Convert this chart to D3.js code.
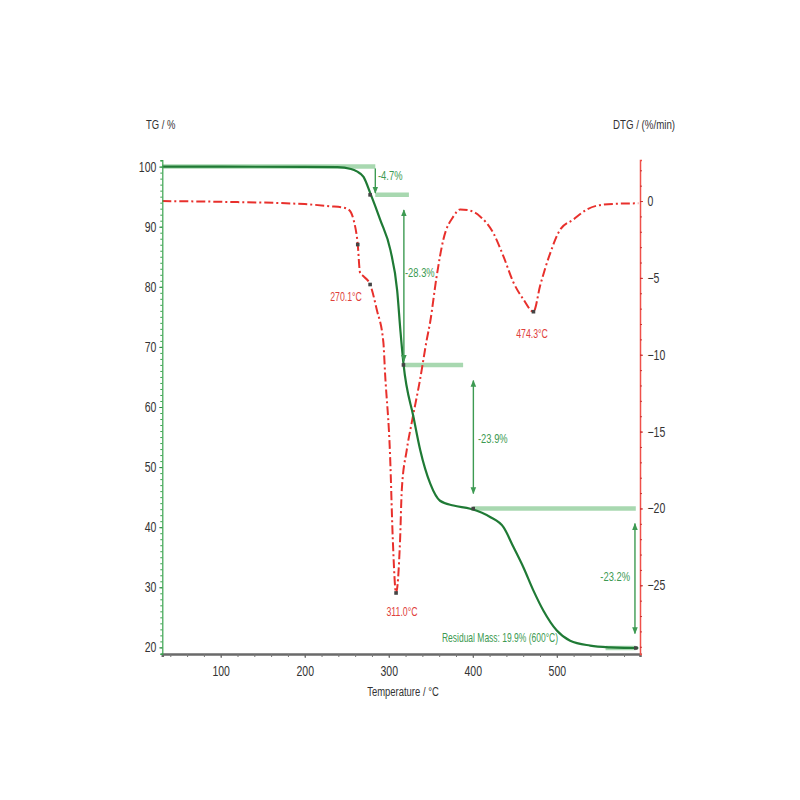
<!DOCTYPE html>
<html><head><meta charset="utf-8">
<script src="https://cdn.jsdelivr.net/npm/d3@7"></script>
<style>body{margin:0;background:#fff}svg{display:block}</style>
</head><body>
<svg id="c" width="800" height="800"></svg>
<script>
// ---------- data ----------
const tgTemp = [30.5,100,200,239,255,262,270,278,290,302,310,314,317.5,329.5,337.5,349.5,361,377,397,420.6,436.5,448.4,460.3,472.2,484.1,500,515.9,539.7,563.5,580,597];
const tgVal  = [100,100,99.95,99.9,99.6,99.2,98.3,95.6,91.1,86.1,79.4,72.5,67.2,58.3,52.8,47.2,44.4,43.6,43.07,41.7,40.0,36.7,33.3,29.45,26.1,22.8,21.1,20.3,20.0,19.92,19.9];
const dtgTemp = [30.5,100,200,230,245,252,258,263.1,265.8,269.8,277.8,285.7,293.6,295.6,301.6,304.8,308.7,313.5,315.5,321.4,327.4,337.3,345.3,349.2,357,365,377,385,395,408.7,424.6,436.5,448.4,460.3,472.2,480.2,492.1,504,519.8,535.7,555.5,575,597];
const dtgVal  = [0,-0.05,-0.2,-0.34,-0.42,-0.55,-1.2,-2.83,-4.65,-4.89,-5.43,-7.06,-9.2,-11.2,-16.6,-22.0,-25.5,-22.0,-18.8,-16.2,-14.4,-11.6,-9.0,-7.9,-4.9,-2.5,-1.0,-0.55,-0.6,-1.0,-2.1,-3.6,-5.3,-6.4,-7.2,-5.5,-3.4,-1.86,-1.2,-0.55,-0.23,-0.17,-0.15];
const tempTicks = [100,200,300,400,500];
const tgTicks = [20,30,40,50,60,70,80,90,100];
const dtgTicks = [0,-5,-10,-15,-20,-25];
// mass-loss steps: arrow temperature, from TG, to TG, label
const stepTemp  = [284, 318, 400.7, 593];
const stepFrom  = [99.7, 92.8, 64.4, 40.6];
const stepTo    = [95.6, 67.6, 45.6, 22.3];
const stepLabel = ["-4.7%","-28.3%","-23.9%","-23.2%"];
// horizontal reference levels: [TG level, start T, end T]
const levelTG    = [100, 95.3, 67.0, 43.1, 19.9];
const levelStart = [30.5, 284, 317.5, 400, 558];
const levelEnd   = [284, 324, 388.5, 594, 594];
// DTG peak labels
const peakTemp  = [277.8, 308.7, 472.2];
const peakVal   = [-5.43, -25.5, -7.2];
const peakLabel = ["270.1°C","311.0°C","474.3°C"];
const extraMarkT = [263.1]; const extraMarkV = [-2.83];
const residualLabel = "Residual Mass: 19.9% (600°C)";

// ---------- layout ----------
const svg = d3.select("#c");
const L=162.3, R=640, T=160, B=654;
const x = d3.scaleLinear().domain([30.5,599]).range([L,R]);
const yL = d3.scaleLinear().domain([18.9,101.1]).range([B,T]);
const yR = d3.scaleLinear().domain([-29.47,2.67]).range([B,T]);
const FONT = "'Liberation Sans Narrow','Arial Narrow','Liberation Sans',Arial,sans-serif";
const dark="#1f7a35", light="#a8d8b0", annG="#3d9a52", red="#e8302c";

function txt(px,py,s,opts={}){
  const sx = opts.sx||0.75;
  return svg.append("text").attr("transform",`translate(${px},${py}) scale(${sx},1)`)
    .attr("font-family",FONT).attr("font-size",opts.size||13)
    .attr("fill",opts.fill||"#333").attr("text-anchor",opts.anchor||"start").text(s);
}

// arrow markers
const defs = svg.append("defs");
function mk(id,orient){
  defs.append("marker").attr("id",id).attr("viewBox","0 0 10 10").attr("refX",9).attr("refY",5)
   .attr("markerWidth",5).attr("markerHeight",5).attr("orient",orient)
   .append("path").attr("d","M0,1 L10,5 L0,9 Z").attr("fill",annG);
}
mk("ah","auto"); mk("as","auto-start-reverse");

// ---------- reference levels ----------
levelTG.forEach((v,i)=>{
  svg.append("line").attr("x1",x(levelStart[i])).attr("x2",x(levelEnd[i]))
    .attr("y1",yL(v)).attr("y2",yL(v)).attr("stroke",light).attr("stroke-width",4.5);
});

// ---------- curves ----------
const tgLine = d3.line().x(d=>x(d[0])).y(d=>yL(d[1])).curve(d3.curveMonotoneX);
const dtgLine = d3.line().x(d=>x(d[0])).y(d=>yR(d[1])).curve(d3.curveMonotoneX);
svg.append("path").datum(dtgTemp.map((t,i)=>[t,dtgVal[i]])).attr("d",dtgLine)
  .attr("fill","none").attr("stroke",red).attr("stroke-width",2).attr("stroke-dasharray","9,3,2,3");
svg.append("path").datum(tgTemp.map((t,i)=>[t,tgVal[i]])).attr("d",tgLine)
  .attr("fill","none").attr("stroke",dark).attr("stroke-width",2.2);

// ---------- step arrows ----------
stepTemp.forEach((t,i)=>{
  svg.append("line").attr("x1",x(t)).attr("x2",x(t)).attr("y1",yL(stepFrom[i])).attr("y2",yL(stepTo[i]))
   .attr("stroke",annG).attr("stroke-width",1.4)
   .attr("marker-end","url(#ah)").attr("marker-start", i>0?"url(#as)":null);
});
const stepLabelPos = [[378,180,"start"],[405,277,"start"],[478,443,"start"],[630,581,"end"]];
stepLabel.forEach((s,i)=>txt(stepLabelPos[i][0],stepLabelPos[i][1],s,{fill:annG,size:12.5,anchor:stepLabelPos[i][2]}));

// ---------- markers ----------
const marks = [[x(277.8),yL(95.3)],[x(317.5),yL(67.0)],[x(400.5),yL(43.1)],[x(594),yL(19.9)]];
peakTemp.forEach((t,i)=>marks.push([x(t),yR(peakVal[i])]));
extraMarkT.forEach((t,i)=>marks.push([x(t),yR(extraMarkV[i])]));
marks.forEach(m=>svg.append("rect").attr("x",m[0]-1.8).attr("y",m[1]-1.8).attr("width",3.6).attr("height",3.6).attr("fill","#444"));

const peakPos = [[346,301],[402,616],[532,338]];
peakLabel.forEach((s,i)=>txt(peakPos[i][0],peakPos[i][1],s,{fill:"#e0403a",size:12.5,anchor:"middle",sx:0.7}));
txt(500,642,residualLabel,{fill:annG,size:12.5,anchor:"middle",sx:0.68});

// ---------- axes ----------
// bottom
const xAxis = svg.append("g").attr("transform",`translate(0,${B})`)
  .call(d3.axisBottom(x).tickValues(d3.range(40,600,20)).tickSize(3).tickFormat(""));
xAxis.select(".domain").attr("stroke","#6a6a6a").attr("stroke-width",2.5);
xAxis.selectAll(".tick line").attr("stroke","#777");
const xAxis2 = svg.append("g").attr("transform",`translate(0,${B})`)
  .call(d3.axisBottom(x).tickValues(tempTicks).tickSize(4).tickPadding(8));
xAxis2.select(".domain").remove();
xAxis2.selectAll(".tick line").attr("stroke","#666");
xAxis2.selectAll("text").attr("font-family",FONT).attr("font-size",14).attr("fill","#333")
  .attr("transform","scale(0.75,1)").attr("x",0);

// left
const yAxisL = svg.append("g").attr("transform",`translate(${L},0)`)
  .call(d3.axisLeft(yL).tickValues(d3.range(19,102,1)).tickSize(2).tickFormat(""));
yAxisL.select(".domain").attr("stroke","#3aa34f").attr("stroke-width",1.2);
yAxisL.selectAll(".tick line").attr("stroke","#3aa34f");
const yAxisL2 = svg.append("g").attr("transform",`translate(${L},0)`)
  .call(d3.axisLeft(yL).tickValues(tgTicks).tickSize(3).tickPadding(5));
yAxisL2.select(".domain").remove();
yAxisL2.selectAll(".tick line").attr("stroke","#2f8f44");
yAxisL2.selectAll("text").attr("font-family",FONT).attr("font-size",14).attr("fill","#333")
  .attr("transform","scale(0.75,1)");

// right
const yAxisR = svg.append("g").attr("transform",`translate(${R},0)`)
  .call(d3.axisRight(yR).tickValues(d3.range(-29,3,1)).tickSize(2).tickFormat(""));
yAxisR.select(".domain").attr("stroke","#f0504a").attr("stroke-width",1.5);
yAxisR.selectAll(".tick line").attr("stroke","#c33");
const yAxisR2 = svg.append("g").attr("transform",`translate(${R},0)`)
  .call(d3.axisRight(yR).tickValues(dtgTicks).tickSize(3).tickPadding(7));
yAxisR2.select(".domain").remove();
yAxisR2.selectAll(".tick line").attr("stroke","#c33");
yAxisR2.selectAll("text").attr("font-family",FONT).attr("font-size",14).attr("fill","#333")
  .attr("transform","scale(0.75,1)");

// titles
txt(146,129,"TG / %",{size:13.5,sx:0.7});
txt(613,129,"DTG / (%/min)",{size:13.5,sx:0.72});
txt(403,696,"Temperature / °C",{size:13.5,anchor:"middle",sx:0.7});
</script>
</body></html>
